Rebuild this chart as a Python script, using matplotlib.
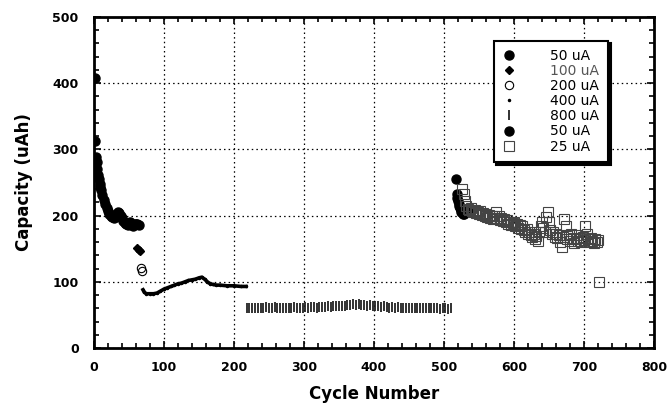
import matplotlib
matplotlib.use("Agg")
import matplotlib.pyplot as plt
from matplotlib.ticker import MultipleLocator

# 50 uA (first block)
c50a = [1, 2, 3, 4, 5, 6, 7, 8, 9, 10, 12, 14, 16, 18, 20, 22, 24, 26, 28, 30,
        32, 34, 36, 38, 40, 42, 44, 46, 48, 50, 52, 54, 56, 58, 60, 62, 64]
q50a = [408, 313, 289, 281, 270, 262, 255, 248, 243, 238, 231, 224, 218, 212, 207, 203,
        200, 198, 196, 198, 202, 205, 204, 200, 196, 192, 189, 187, 186, 189, 190, 186,
        185, 187, 188, 187, 186]

# 100 uA
c100 = [61, 64, 66]
q100 = [151, 148, 146]

# 200 uA
c200 = [67, 69]
q200 = [121, 116]

# 400 uA
c400 = [70, 72, 75, 80, 85, 90, 95, 100, 105, 110, 115, 120, 125, 130, 135, 140, 145,
        150, 154, 158, 162, 166, 170, 175, 180, 190, 200, 210, 217]
q400 = [88, 84, 82, 82, 82, 83, 86, 89, 91, 93, 95, 97, 98, 100, 102, 103, 104,
        106, 107, 104, 100, 97, 96, 95, 95, 94, 94, 93, 93]

# 800 uA
c800 = [218, 222, 226, 230, 234, 238, 242, 246, 250, 254, 258, 262, 266, 270, 274, 278,
        282, 286, 290, 294, 298, 302, 306, 310, 314, 318, 322, 326, 330, 334, 338, 342,
        346, 350, 354, 358, 362, 366, 370, 374, 378, 382, 386, 390, 394, 398, 402, 406,
        410, 414, 418, 422, 426, 430, 434, 438, 442, 446, 450, 454, 458, 462, 466, 470,
        474, 478, 482, 486, 490, 494, 498, 502, 506, 510]
q800 = [60, 61, 60, 61, 61, 60, 61, 62, 61, 61, 62, 61, 61, 60, 61, 61,
        61, 62, 61, 61, 61, 62, 61, 62, 62, 61, 62, 62, 62, 63, 62, 63,
        63, 63, 64, 64, 65, 65, 66, 65, 66, 65, 65, 64, 65, 64, 63, 63,
        62, 63, 62, 61, 62, 61, 62, 61, 61, 60, 61, 61, 60, 61, 60, 60,
        61, 60, 60, 61, 60, 59, 60, 60, 59, 60]

# 50 uA (second block)
c50b = [517, 518, 519, 520, 521, 522, 523, 524, 525, 527, 529, 531, 533, 536]
q50b = [256, 232, 226, 222, 218, 215, 212, 208, 206, 203, 202, 205, 210, 209]

# 25 uA
c25 = [526, 528, 530, 532, 534, 536, 538, 540, 542, 544, 546, 548, 550, 552, 554, 556,
       558, 560, 562, 564, 566, 568, 570, 572, 574, 576, 578, 580, 582, 584, 586, 588,
       590, 592, 594, 596, 598, 600, 602, 604, 606, 608, 610, 612, 614, 616, 618, 620,
       622, 624, 626, 628, 630, 632, 634, 636, 638, 640, 642, 644, 646, 648, 650, 652,
       654, 656, 658, 660, 662, 664, 666, 668, 670, 672, 674, 676, 678, 680, 682, 684,
       686, 688, 690, 692, 694, 696, 698, 700, 702, 704, 706, 708, 710, 712, 714, 716,
       718, 720, 722]
q25 = [240, 232, 222, 214, 210, 208, 212, 207, 205, 209, 204, 206, 203, 207, 201, 204,
       200, 203, 198, 201, 197, 200, 195, 199, 205, 196, 200, 193, 197, 192, 195, 190,
       193, 188, 191, 186, 189, 191, 185, 188, 182, 186, 180, 184, 178, 175, 180, 172,
       176, 170, 167, 172, 165, 169, 162, 175, 185, 190, 182, 176, 198, 205, 190, 178,
       172, 176, 168, 172, 166, 170, 160, 153, 168, 195, 185, 165, 170, 162, 172, 166,
       158, 165, 170, 162, 166, 160, 168, 163, 185, 172, 165, 160, 166, 162, 158, 164,
       160, 163, 100]

fig = plt.figure(figsize=(6.68, 4.05), dpi=100)
ax = fig.add_axes([0.1407, 0.1407, 0.8383, 0.8173])

ax.plot(c50a, q50a, 'o', color='k', ms=6.5, label='50 uA')
ax.plot(c100, q100, 'D', color='k', ms=4.5, label='100 uA')
ax.plot(c200, q200, 'o', mfc='none', mec='k', ms=6, mew=0.8, label='200 uA')
ax.plot(c400, q400, '-', color='k', lw=2.6)
ax.plot(c400, q400, '.', color='k', ms=3, label='400 uA', linestyle='none')
ax.plot(c800, q800, '|', color='#222222', ms=6.5, mew=1.3, label='800 uA')
ax.plot(c50b, q50b, 'o', color='k', ms=6.5, label='50 uA')
ax.plot(c25, q25, 's', mfc='none', mec='#444444', ms=6.5, mew=0.8, label='25 uA')

ax.set_xlim(0, 800)
ax.set_ylim(0, 500)
ax.xaxis.set_major_locator(MultipleLocator(100))
ax.xaxis.set_minor_locator(MultipleLocator(20))
ax.yaxis.set_major_locator(MultipleLocator(100))
ax.yaxis.set_minor_locator(MultipleLocator(20))
ax.grid(True, which='major', linestyle=(0, (1.2, 2.5)), color='k', lw=0.9)
ax.tick_params(which='both', direction='in', top=True, right=True, width=1.2)
ax.tick_params(which='major', length=5)
ax.tick_params(which='minor', length=3.5)
ax.tick_params(axis='x', pad=9)
ax.tick_params(axis='y', pad=11)
for s in ax.spines.values():
    s.set_linewidth(2)
for t in ax.get_xticklabels() + ax.get_yticklabels():
    t.set_fontweight('bold')
    t.set_fontsize(9)

ax.set_xlabel('Cycle Number', fontsize=12, fontweight='bold', labelpad=8)
ax.set_ylabel('Capacity (uAh)', fontsize=12, fontweight='bold', labelpad=14)

leg = ax.legend(loc='upper right', bbox_to_anchor=(0.93, 0.95), fontsize=10,
                frameon=True, fancybox=False, framealpha=1, edgecolor='k',
                labelspacing=0.08, handletextpad=2.5, borderpad=0.6,
                handlelength=1.0, shadow={'color': 'k', 'alpha': 1})
leg.get_frame().set_linewidth(1.5)
leg.get_texts()[1].set_color('#555555')

fig.savefig('out.png', dpi=100)
